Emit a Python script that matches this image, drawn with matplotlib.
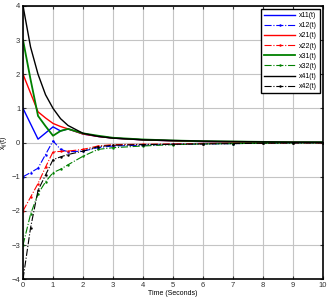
import matplotlib
matplotlib.use("Agg")
import matplotlib.pyplot as plt
import numpy as np

plt.rcParams['font.family'] = ['Liberation Sans', 'DejaVu Sans']

# time samples (seconds)
t = [0, 0.25, 0.5, 0.75, 1, 1.25, 1.5, 2, 2.5, 3, 4, 5, 6, 7, 8, 9, 10]

x11 = [1.0, 0.55, 0.1, 0.28, 0.46, 0.34, 0.4, 0.25, 0.18, 0.13, 0.08, 0.05, 0.03, 0.02, 0.01, 0.01, 0.0]
x12 = [-1.0, -0.88, -0.75, -0.35, 0.05, -0.2, -0.27, -0.25, -0.15, -0.1, -0.08, -0.05, -0.04, -0.03, -0.02, -0.01, -0.01]
x21 = [2.0, 1.45, 0.9, 0.72, 0.56, 0.47, 0.4, 0.25, 0.18, 0.13, 0.08, 0.05, 0.03, 0.02, 0.01, 0.01, 0.0]
x22 = [-2.0, -1.6, -1.2, -0.72, -0.27, -0.26, -0.25, -0.2, -0.1, -0.06, -0.05, -0.04, -0.03, -0.02, -0.02, -0.01, -0.01]
x31 = [3.0, 1.85, 0.78, 0.48, 0.2, 0.34, 0.4, 0.27, 0.2, 0.14, 0.09, 0.06, 0.04, 0.03, 0.02, 0.01, 0.01]
x32 = [-3.0, -2.1, -1.5, -1.15, -0.88, -0.78, -0.65, -0.4, -0.2, -0.15, -0.1, -0.06, -0.04, -0.03, -0.02, -0.01, -0.01]
x41 = [4.0, 2.8, 2.0, 1.4, 1.0, 0.7, 0.5, 0.27, 0.18, 0.13, 0.08, 0.06, 0.04, 0.03, 0.02, 0.01, 0.01]
x42 = [-4.0, -2.5, -1.4, -0.95, -0.5, -0.42, -0.35, -0.25, -0.12, -0.08, -0.06, -0.05, -0.04, -0.03, -0.02, -0.01, -0.01]

fig = plt.figure(figsize=(3.29, 2.97), dpi=100)
ax = fig.add_axes([0.07, 0.06, 0.912, 0.92])

ax.plot(t, x11, color='blue', lw=1.0, label='x11(t)')
ax.plot(t, x12, color='blue', lw=0.8, ls='-.', marker='.', ms=1.5, label='x12(t)')
ax.plot(t, x21, color='red', lw=1.0, label='x21(t)')
ax.plot(t, x22, color='red', lw=0.8, ls='-.', marker='.', ms=1.5, label='x22(t)')
ax.plot(t, x31, color='green', lw=1.3, label='x31(t)')
ax.plot(t, x32, color='green', lw=0.8, ls='-.', marker='.', ms=1.5, label='x32(t)')
ax.plot(t, x41, color='black', lw=1.0, label='x41(t)')
ax.plot(t, x42, color='black', lw=0.8, ls='-.', marker='.', ms=1.5, label='x42(t)')

ax.set_xlim(0, 10)
ax.set_ylim(-4, 4)
ax.set_xticks(np.arange(0, 11, 1))
ax.set_yticks(np.arange(-4, 5, 1))
ax.tick_params(direction='in', top=True, right=True, labelsize=5.5, length=2.5, pad=2, colors='#333333')
ax.grid(color='#c4c4c4', lw=0.8)
for s in ax.spines.values():
    s.set_linewidth(1.2)

ax.set_xlabel('Time (Seconds)', fontsize=5, labelpad=1)
ax.set_ylabel('x$_{ij}$(t)', fontsize=5, labelpad=1)

leg = ax.legend(loc='upper right', fontsize=5, handlelength=4.5, framealpha=1,
                fancybox=False, edgecolor='black', borderaxespad=0.5,
                labelspacing=0.45, handletextpad=0.5)
leg.get_frame().set_linewidth(1.0)

fig.savefig('out.png', dpi=100)
